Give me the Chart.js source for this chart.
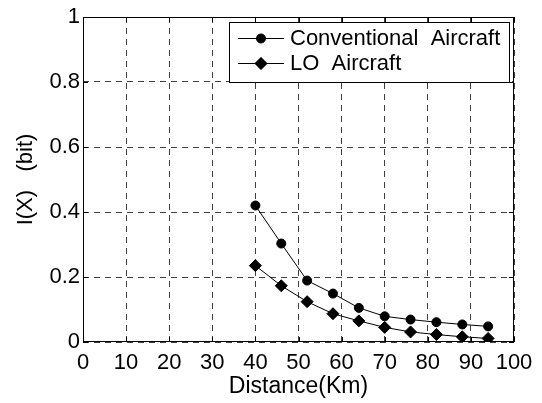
<!DOCTYPE html>
<html>
<head>
<meta charset="utf-8">
<script src="https://cdn.jsdelivr.net/npm/chart.js@4/dist/chart.umd.min.js"></script>
<style>
  html, body { margin: 0; padding: 0; background: #fff; }
  #wrap { width: 542px; height: 403px; }
</style>
</head>
<body>
<div id="wrap"><canvas id="chart" width="542" height="403"></canvas></div>
<script>
// data
const distanceKm = [40, 46, 52, 58, 64, 70, 76, 82, 88, 94];
const conventional = [0.42, 0.303, 0.189, 0.149, 0.105, 0.079, 0.069, 0.061, 0.054, 0.048];
const loAircraft = [0.235, 0.173, 0.124, 0.087, 0.065, 0.045, 0.031, 0.023, 0.016, 0.011];
const seriesLabels = ['Conventional  Aircraft', 'LO  Aircraft'];

const FONT = 'Arial, "Liberation Sans", Helvetica, sans-serif';

const toPoints = ys => distanceKm.map((x, i) => ({ x, y: ys[i] }));

// box, inward ticks on all four sides, and the legend
const matlabFrame = {
    id: 'matlabFrame',
    afterDraw(chart) {
        const { ctx, chartArea: a, scales } = chart;
        ctx.save();
        ctx.strokeStyle = '#000';
        ctx.lineWidth = 1;
        ctx.setLineDash([]);
        ctx.strokeRect(a.left + 0.5, a.top + 0.5, a.right - a.left - 1, a.bottom - a.top - 1);
        const tl = 5;
        ctx.beginPath();
        scales.x.ticks.forEach(t => {
            const px = Math.round(scales.x.getPixelForValue(t.value)) + 0.5;
            ctx.moveTo(px, a.bottom); ctx.lineTo(px, a.bottom - tl);
            ctx.moveTo(px, a.top); ctx.lineTo(px, a.top + tl);
        });
        scales.y.ticks.forEach(t => {
            const py = Math.round(scales.y.getPixelForValue(t.value)) + 0.5;
            ctx.moveTo(a.left, py); ctx.lineTo(a.left + tl, py);
            ctx.moveTo(a.right, py); ctx.lineTo(a.right - tl, py);
        });
        ctx.stroke();

        // legend box in the upper right
        const box = { left: 229, top: 22, right: 509, bottom: 82 };
        ctx.fillStyle = '#fff';
        ctx.fillRect(box.left, box.top, box.right - box.left, box.bottom - box.top);
        ctx.strokeRect(box.left + 0.5, box.top + 0.5, box.right - box.left, box.bottom - box.top);
        ctx.font = '22px ' + FONT;
        ctx.textBaseline = 'middle';
        chart.data.datasets.forEach((ds, i) => {
            const y = box.top + 16 + i * 25;
            ctx.beginPath();
            ctx.moveTo(box.left + 9, y + 0.5);
            ctx.lineTo(box.left + 55, y + 0.5);
            ctx.stroke();
            Chart.helpers.drawPoint(ctx, {
                pointStyle: ds.pointStyle, radius: ds.pointRadius, borderWidth: 1
            }, box.left + 32, y + 0.5);
            ctx.fillStyle = '#000';
            ctx.fill();
            ctx.fillText(ds.label, box.left + 61, y + 1);
        });
        ctx.restore();
    }
};

const fmt = v => String(Number(v.toFixed(1)));

new Chart(document.getElementById('chart'), {
    type: 'line',
    data: {
        datasets: [{
            label: seriesLabels[0],
            data: toPoints(conventional),
            borderColor: '#000',
            backgroundColor: '#000',
            borderWidth: 1,
            pointStyle: 'circle',
            pointRadius: 4.5,
            tension: 0
        }, {
            label: seriesLabels[1],
            data: toPoints(loAircraft),
            borderColor: '#000',
            backgroundColor: '#000',
            borderWidth: 1,
            pointStyle: 'rectRot',
            pointRadius: 6,
            tension: 0
        }]
    },
    options: {
        responsive: false,
        animation: false,
        devicePixelRatio: 1,
        layout: { padding: { top: 17, right: 28, left: 0, bottom: 0 }, autoPadding: false },
        plugins: { legend: { display: false }, tooltip: { enabled: false } },
        scales: {
            x: {
                type: 'linear',
                min: 0,
                max: 100,
                ticks: { stepSize: 10, color: '#000', font: { family: FONT, size: 22 }, padding: 8, maxRotation: 0, callback: fmt },
                grid: { color: 'rgba(0,0,0,0.75)', drawTicks: false, lineWidth: 1 },
                border: { display: false, dash: [6, 5] },
                title: { display: true, text: 'Distance(Km)', color: '#000', font: { family: FONT, size: 23 }, padding: { top: 0, bottom: 3 } },
                afterFit: s => { s.height = 61; }
            },
            y: {
                min: 0,
                max: 1,
                ticks: { stepSize: 0.2, color: '#000', font: { family: FONT, size: 22 }, padding: 3, callback: fmt },
                grid: { color: 'rgba(0,0,0,0.75)', drawTicks: false, lineWidth: 1 },
                border: { display: false, dash: [6, 5] },
                title: { display: true, text: 'I(X)   (bit)', color: '#000', font: { family: FONT, size: 22 }, padding: { top: 13, bottom: 0 } },
                afterFit: s => { s.width = 83; }
            }
        }
    },
    plugins: [matlabFrame]
});
</script>
</body>
</html>
